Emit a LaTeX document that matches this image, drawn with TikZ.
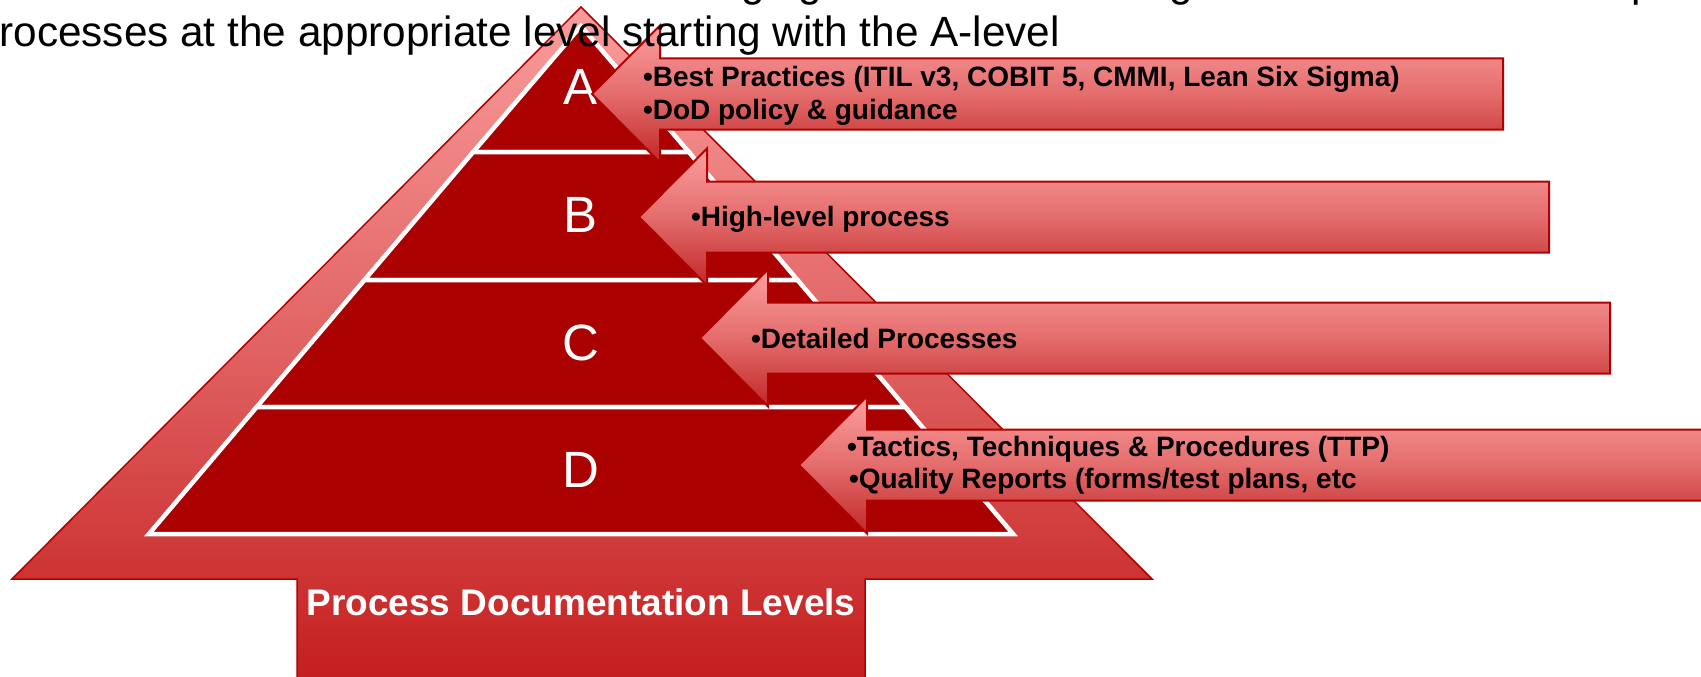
\documentclass[tikz,border=0pt]{standalone}
\usepackage{fontspec}
\setmainfont{Liberation Sans}

\definecolor{bigtop}{RGB}{250,156,156}
\definecolor{bigmid}{RGB}{224,98,98}
\definecolor{bigbot}{RGB}{196,28,28}
\definecolor{lvltop}{RGB}{252,160,160}
\definecolor{lvlmid}{RGB}{228,108,108}
\definecolor{lvlbot}{RGB}{192,40,40}
\definecolor{edgered}{RGB}{178,0,0}
\definecolor{pyrred}{RGB}{170,0,0}

% left-pointing callout arrow: tip x, centre y, right end x
\newcommand\levelarrow[3]{%
  \draw[levelarrow] (#1,#2) -- (#1+68,#2-68.5) -- (#1+68,#2-35.5)
    -- (#3,#2-35.5) -- (#3,#2+35.5) -- (#1+68,#2+35.5)
    -- (#1+68,#2+68.5) -- cycle;}

\begin{document}
\begin{tikzpicture}[x=1pt,y=-1pt,
  every node/.style={inner sep=0pt,outer sep=0pt},
  bigarrow/.style={draw=edgered,line width=1.5pt,line join=miter,
    top color=bigtop,bottom color=bigbot,middle color=bigmid},
  section/.style={fill=pyrred,draw=white,line width=4.5pt,line join=miter},
  levelarrow/.style={draw=edgered,line width=2pt,line join=miter,
    top color=lvltop,bottom color=lvlbot,middle color=lvlmid},
  letter/.style={anchor=base,text=white,font=\fontsize{51}{60}\selectfont},
  bullets/.style={anchor=base west,text=black,
    font=\fontsize{28}{32}\selectfont\bfseries},
  heading/.style={anchor=base west,text=black,font=\fontsize{42.3}{48}\selectfont},
  caption/.style={anchor=base,text=white,font=\fontsize{37}{44}\selectfont\bfseries}]

\useasboundingbox (0,0) rectangle (1701,677);

% large upward arrow behind the pyramid
\draw[bigarrow] (581,7) -- (1152,579) -- (865,579) -- (865,690)
  -- (297,690) -- (297,579) -- (12,579) -- cycle;

% pyramid sections
\draw[section] (581,26) -- (688.8,152) -- (473.2,152) -- cycle;
\draw[section] (473.2,152) -- (688.8,152) -- (797.5,280) -- (364.5,280) -- cycle;
\draw[section] (364.5,280) -- (797.5,280) -- (905.3,407) -- (256.7,407) -- cycle;
\draw[section] (256.7,407) -- (905.3,407) -- (1013.1,534) -- (148.9,534) -- cycle;

\node[letter] (la) at (581,104) {A};
\node[letter] (lb) at (581,232) {B};
\node[letter] (lc) at (581,360) {C};
\node[letter] (ld) at (581,487) {D};

% callout arrows with their contents
\levelarrow{592}{94}{1503}
\node[bullets] (ta1) at (643,87) {•Best Practices (ITIL v3, COBIT 5, CMMI, Lean Six Sigma)};
\node[bullets] (ta2) at (643,119) {•DoD policy \& guidance};

\levelarrow{639}{217}{1549}
\node[bullets] (tb) at (691,226) {•High-level process};

\levelarrow{700}{338}{1610}
\node[bullets] (tc) at (751,348) {•Detailed Processes};

\levelarrow{799}{465}{1713}
\node[bullets] (td1) at (847,456) {•Tactics, Techniques \& Procedures (TTP)};
\node[bullets] (td2) at (849,488) {•Quality Reports (forms/test plans, etc};

\node[caption] (cap) at (581,615) {Process Documentation Levels};

% heading text, the upper line running off the top edge
\node[heading] (g1) at (741.5,-3) {g};
\node[heading] (g2) at (798.5,-3) {g};
\node[heading] (g3) at (1169.5,-3) {g};
\node[heading] (p1) at (1631,-3) {p};
\node[heading] (head) at (-24,47) {processes at the appropriate level starting with the A-level};

\end{tikzpicture}
\end{document}
